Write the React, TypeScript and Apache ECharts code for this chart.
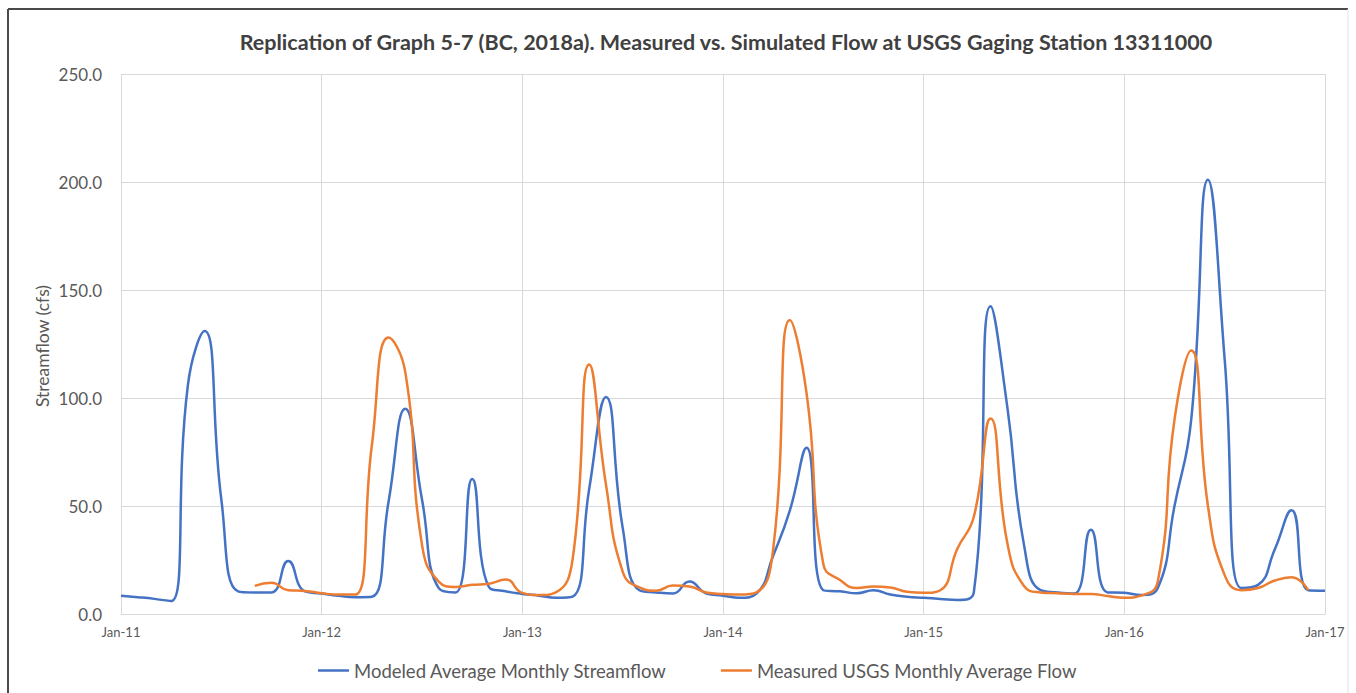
import React, { useEffect, useRef } from "react";
import * as echarts from "echarts";

const MONTHS = ["Jan", "Feb", "Mar", "Apr", "May", "Jun", "Jul", "Aug", "Sep", "Oct", "Nov", "Dec"];
const START_YEAR = 2011;
const MONTH_COUNT = 73; // Jan-11 .. Jan-17
const categories: string[] = Array.from({ length: MONTH_COUNT }, (_, i) =>
  `${MONTHS[i % 12]}-${String(START_YEAR + Math.floor(i / 12)).slice(2)}`
);

const xTickLabels = ["Jan-11", "Jan-12", "Jan-13", "Jan-14", "Jan-15", "Jan-16", "Jan-17"];

// Modeled Average Monthly Streamflow (cfs), Jan-11 .. Jan-17
const modeled: number[] = [
  8.5, 7.8, 7, 6, 106, 131, 53, 10.5, 10, 10, 24.5, 10.5,
  9.5, 8.5, 7.8, 8, 52, 95, 53, 12, 10, 62.5, 12.5, 10.5,
  9.3, 8.5, 7.5, 8, 58, 100.5, 40, 11, 10, 9.5, 15, 9.5,
  8.5, 7.5, 9.5, 27, 48, 77, 11, 10.5, 9.6, 11, 9, 8,
  7.5, 7, 6.5, 10, 142.5, 96, 32, 11, 10, 9.5, 39, 10,
  9.8, 8.8, 12, 50, 90, 201, 118, 12, 13.5, 30, 48, 11,
  10.8,
];

// Measured USGS Monthly Average Flow (cfs), Jan-11 .. Jan-17 (no record before Sep-11)
const measured: (number | null)[] = [
  null, null, null, null, null, null, null, null, 13, 14.5, 11, 10.7,
  9.6, 9, 9, 78, 128, 112, 32, 15, 12.5, 13.5, 14, 16,
  9.8, 8.8, 10, 25, 115.5, 60, 19.6, 12.3, 10.8, 13.2, 12.7, 10,
  9.3, 9, 10, 30, 136, 102, 23, 15.7, 12, 12.7, 12.3, 10.3,
  9.8, 11, 30, 45, 90.5, 33, 13, 10, 9.6, 9.3, 9.3, 8.3,
  7.5, 8.5, 15, 90, 122, 50, 18, 11, 12, 15.5, 17, 11,
  null,
];

const Y_MIN = 0;
const Y_MAX = 250;
const Y_STEP = 50;

const TITLE = "Replication of Graph 5-7 (BC, 2018a). Measured vs. Simulated Flow at USGS Gaging Station 13311000";
const Y_NAME = "Streamflow (cfs)";
const SERIES_NAMES = ["Modeled Average Monthly Streamflow", "Measured USGS Monthly Average Flow"];
const SERIES_COLORS = ["#4472C4", "#ED7D31"];

const FONT = "Lato, 'Open Sans', sans-serif";
const TEXT_COLOR = "#595959";
const GRID_COLOR = "#d9d9d9";

export default function App() {
  const ref = useRef<HTMLDivElement>(null);

  useEffect(() => {
    if (!ref.current) return;
    const chart = echarts.init(ref.current, null, { renderer: "svg" });
    const isTick = (idx: number) => xTickLabels.includes(categories[idx]);

    chart.setOption({
      animation: false,
      backgroundColor: "#ffffff",
      textStyle: { fontFamily: FONT },
      grid: { left: 121, right: 31, top: 74, bottom: 79, containLabel: false },
      graphic: [
        {
          type: "line",
          shape: { x1: 8, y1: 9, x2: 8, y2: 693 },
          style: { stroke: "#4a4a4a", lineWidth: 2 },
        },
        {
          type: "line",
          shape: { x1: 8, y1: 9, x2: 1348, y2: 9 },
          style: { stroke: "#4a4a4a", lineWidth: 2 },
        },
        {
          type: "line",
          shape: { x1: 1348, y1: 9, x2: 1348, y2: 693 },
          style: { stroke: "#e3e3e3", lineWidth: 1 },
        },
        {
          type: "text",
          x: 726,
          y: 42,
          style: {
            text: TITLE,
            align: "center",
            verticalAlign: "middle",
            fill: "#404040",
            font: `bold 21.5px ${FONT}`,
          },
        },
        {
          type: "text",
          x: 42,
          y: 346,
          rotation: Math.PI / 2,
          style: {
            text: Y_NAME,
            align: "center",
            verticalAlign: "middle",
            fill: TEXT_COLOR,
            font: `17.5px ${FONT}`,
          },
        },
      ],
      legend: {
        data: SERIES_NAMES.map((name, i) => ({ name, itemStyle: { color: SERIES_COLORS[i] } })),
        icon: "rect",
        left: 313,
        top: 656,
        itemWidth: 31,
        itemHeight: 2.5,
        itemGap: 54,
        textStyle: { color: TEXT_COLOR, fontSize: 18.5, fontFamily: FONT },
      },
      xAxis: {
        type: "category",
        data: categories,
        boundaryGap: false,
        axisLine: { show: true, lineStyle: { color: GRID_COLOR, width: 1 } },
        axisTick: { show: false },
        axisLabel: {
          interval: (idx: number) => isTick(idx),
          color: TEXT_COLOR,
          fontSize: 13,
          fontFamily: FONT,
          margin: 11,
        },
        splitLine: {
          show: true,
          interval: (idx: number) => isTick(idx),
          lineStyle: { color: GRID_COLOR, width: 1 },
        },
      },
      yAxis: {
        type: "value",
        min: Y_MIN,
        max: Y_MAX,
        interval: Y_STEP,
        axisLine: { show: false },
        axisTick: { show: false },
        axisLabel: {
          formatter: (v: number) => v.toFixed(1),
          color: TEXT_COLOR,
          fontSize: 17,
          fontFamily: FONT,
          margin: 19,
        },
        splitLine: { show: true, lineStyle: { color: GRID_COLOR, width: 1 } },
      },
      series: [
        {
          name: SERIES_NAMES[0],
          type: "line",
          data: modeled,
          smooth: 0.5,
          symbol: "none",
          lineStyle: { color: SERIES_COLORS[0], width: 2.5 },
          itemStyle: { color: SERIES_COLORS[0] },
        },
        {
          name: SERIES_NAMES[1],
          type: "line",
          data: measured,
          smooth: 0.5,
          symbol: "none",
          connectNulls: false,
          lineStyle: { color: SERIES_COLORS[1], width: 2.5 },
          itemStyle: { color: SERIES_COLORS[1] },
        },
      ],
    });

    return () => chart.dispose();
  }, []);

  return (
    <div
      ref={ref}
      style={{ position: "absolute", left: 0, top: 0, width: 1356, height: 693 }}
    />
  );
}
